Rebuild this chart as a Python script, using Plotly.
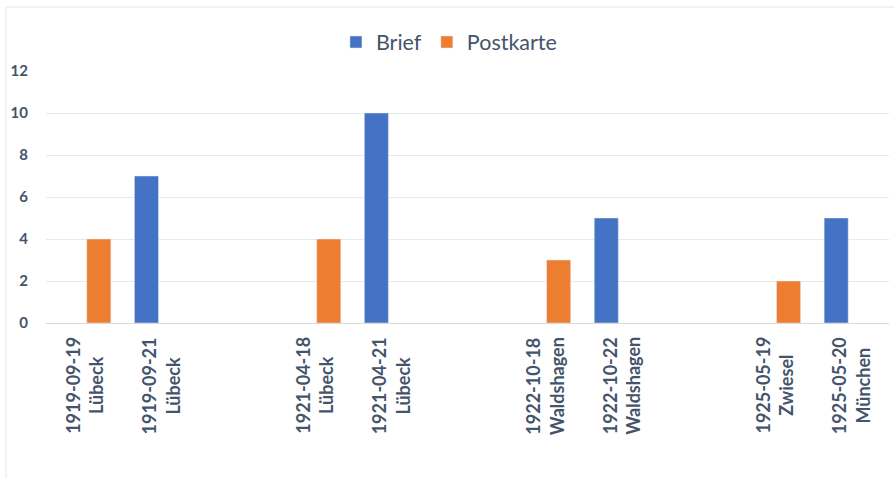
import plotly.graph_objects as go

# ---- data ----
dates = ["1919-09-19", "1919-09-21", "1921-04-18", "1921-04-21",
         "1922-10-18", "1922-10-22", "1925-05-19", "1925-05-20"]
places = ["Lübeck", "Lübeck", "Lübeck", "Lübeck",
          "Waldshagen", "Waldshagen", "Zwiesel", "München"]
brief = [None, 7, None, 10, None, 5, None, 5]
postkarte = [4, None, 4, None, 3, None, 2, None]
y_ticks = [0, 2, 4, 6, 8, 10, 12]

# ---- build category slots (empty spacer slot after each pair) ----
cats, b_vals, p_vals, label_cats, label_texts = [], [], [], [], []
spacer_n = 0
for i, (d, pl) in enumerate(zip(dates, places)):
    key = f"{d} {pl}"
    cats.append(key)
    b_vals.append(brief[i])
    p_vals.append(postkarte[i])
    label_cats.append(key)
    label_texts.append(f"{d}<br>{pl}")
    if i % 2 == 1 and i < len(dates) - 1:
        spacer_n += 1
        sp = " " * spacer_n
        cats.append(sp)
        b_vals.append(None)
        p_vals.append(None)

TXT = "#44546A"
FONT = "Lato"

fig = go.Figure()
fig.add_trace(go.Bar(name="Brief", x=cats, y=b_vals, marker_color="#4472C4"))
fig.add_trace(go.Bar(name="Postkarte", x=cats, y=p_vals, marker_color="#ED7D31"))

annotations = []
for c, t in zip(label_cats, label_texts):
    annotations.append(dict(
        x=c, xref="x", y=0, yref="paper", yanchor="top", xanchor="center",
        yshift=-12, text=t, textangle=-90, align="center", showarrow=False,
        font=dict(family=FONT, size=18, color=TXT, weight="bold")))

L, R, T, B = 46, 889, 71, 323
W, H = 894, 478
pw, ph = R - L, B - T

fig.update_layout(
    width=W, height=H,
    margin=dict(l=L, r=W - R, t=T, b=H - B),
    paper_bgcolor="white", plot_bgcolor="white",
    barmode="group", bargap=0.243, bargroupgap=0.17,
    font=dict(family=FONT, color=TXT),
    legend=dict(orientation="h", x=0.478, xanchor="center",
                y=(B - 42) / ph, yanchor="middle",
                font=dict(family=FONT, size=21.5, color=TXT),
                itemwidth=30),
    xaxis=dict(type="category", categoryorder="array", categoryarray=cats,
               showticklabels=False, showgrid=False, ticks="",
               showline=True, linecolor="#D9D9D9", linewidth=1),
    yaxis=dict(range=[0, 12], tickvals=y_ticks, showgrid=True,
               gridcolor="#E9E9E9", zeroline=False, ticks="",
               ticklabelstandoff=17,
               tickfont=dict(family=FONT, size=15, color=TXT, weight="bold")),
    annotations=annotations,
    shapes=[dict(type="rect", xref="paper", yref="paper",
                 x0=(6 - L) / pw, x1=(W + 20 - L) / pw,
                 y0=(B - (H + 20)) / ph, y1=(B - 7) / ph,
                 line=dict(color="#E6E6E6", width=1), fillcolor="rgba(0,0,0,0)",
                 layer="below")],
)

fig.write_html("out.html")
